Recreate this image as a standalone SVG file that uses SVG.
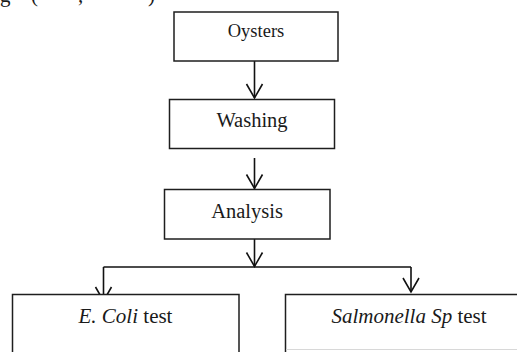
<svg xmlns="http://www.w3.org/2000/svg" width="517" height="352" viewBox="0 0 517 352">
  <style>
    .box { fill: #ffffff; stroke: #1e1e1e; stroke-width: 1.5; }
    .lbl { font-family: "Liberation Serif", "Times New Roman", serif; fill: #1a1a1a; text-anchor: middle; }
    .it { font-style: italic; }
    .conn { fill: none; stroke: #111111; stroke-width: 1.6; }
    .frag { font-family: "Liberation Serif", "Times New Roman", serif; font-size: 21px; fill: #1a1a1a; }
  </style>
  <defs>
    <marker id="vhead" markerUnits="userSpaceOnUse" viewBox="-16 -9 18 18" refX="0" refY="0" markerWidth="18" markerHeight="18" orient="auto" overflow="visible">
      <path d="M-14,-8 L0,0 L-14,8" fill="none" stroke="#111111" stroke-width="1.6" stroke-linejoin="miter"/>
    </marker>
  </defs>
  <rect width="517" height="352" fill="#ffffff"/>

  <g id="caption-fragment">
    <text class="frag" x="0" y="1.5">g</text>
    <text class="frag" x="31" y="1.5">(</text>
    <text class="frag" x="78" y="1.5">,</text>
    <text class="frag" x="148" y="1.5">)</text>
  </g>

  <g id="connectors">
    <path class="conn" d="M254.5,61 V98" marker-end="url(#vhead)"/>
    <path class="conn" d="M254.5,158 V188.5" marker-end="url(#vhead)"/>
    <path class="conn" d="M254.5,239 V266.5" marker-end="url(#vhead)"/>
    <path class="conn" d="M103.5,267 H411"/>
    <path class="conn" d="M103.5,267 V301" marker-end="url(#vhead)"/>
    <path class="conn" d="M411,267 V292" marker-end="url(#vhead)"/>
  </g>

  <g id="oysters">
    <rect class="box" x="174" y="12" width="164" height="49"/>
    <text class="lbl" x="256" y="37" font-size="18.5">Oysters</text>
  </g>

  <g id="washing">
    <rect class="box" x="169.5" y="99.5" width="165" height="49"/>
    <text class="lbl" x="252" y="126.5" font-size="20.5">Washing</text>
  </g>

  <g id="analysis">
    <rect class="box" x="164.5" y="189.5" width="165.5" height="49.5"/>
    <text class="lbl" x="247" y="217.5" font-size="20.5">Analysis</text>
  </g>

  <g id="ecoli">
    <path class="box" d="M12.5,360 V294.5 H239 V360" fill="#ffffff"/>
    <text class="lbl" x="125.5" y="322.5" font-size="21"><tspan class="it">E. Coli</tspan> test</text>
  </g>

  <g id="salmonella">
    <path class="box" d="M285.5,360 V294.5 H530" fill="#ffffff"/>
    <line x1="286" y1="349.5" x2="517" y2="349.5" stroke="#d8d8d8" stroke-width="1"/>
    <text class="lbl" x="409" y="322.5" font-size="21"><tspan class="it">Salmonella Sp</tspan> test</text>
  </g>
</svg>
